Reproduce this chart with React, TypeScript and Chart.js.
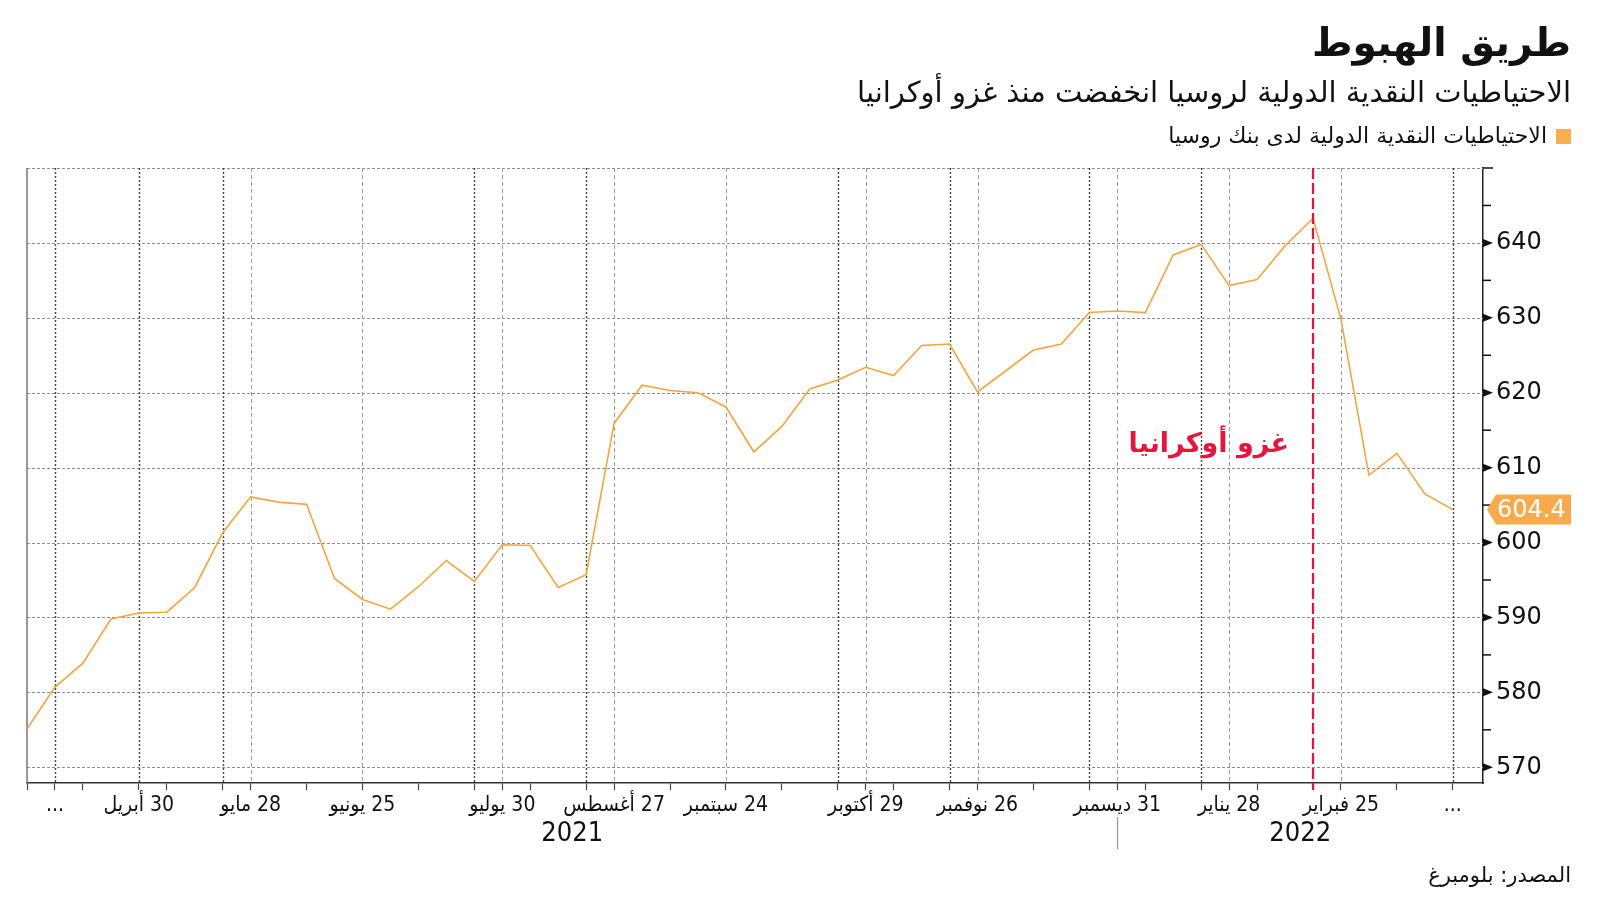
import React, { useEffect, useRef } from 'react';
import { Chart, registerables } from 'chart.js';

Chart.register(...registerables);

// Weekly international reserves of the Bank of Russia, $bn (2 Apr 2021 .. 25 Mar 2022)
const reserves = [
  575.1, 580.7, 583.9, 589.8, 590.6, 590.7, 594.0, 601.3, 606.1, 605.4,
  605.1, 595.2, 592.4, 591.1, 594.1, 597.6, 594.8, 599.7, 599.6, 594.0,
  595.7, 615.9, 621.0, 620.3, 620.0, 618.1, 612.1, 615.5, 620.5, 621.7,
  623.4, 622.3, 626.3, 626.5, 620.1, 622.9, 625.7, 626.5, 630.7, 630.9,
  630.7, 638.4, 639.8, 634.3, 635.1, 639.6, 643.3, 629.8, 609.0, 611.9,
  606.5, 604.4,
];

// x axis: week index of tick marks, labelled weeks and their labels
const tickWeeks = [0, 1, 2, 4, 5, 7, 8, 10, 12, 14, 16, 17, 18, 20, 21, 23, 25, 27, 29, 30, 31, 33, 34, 36, 38, 39, 40, 42, 43, 44, 46, 47, 49, 51];
const labelWeeks = [1, 4, 8, 12, 17, 21, 25, 30, 34, 39, 43, 47, 51];
const labelTexts = ['...', '30 أبريل', '28 مايو', '25 يونيو', '30 يوليو', '27 أغسطس', '24 سبتمبر', '29 أكتوبر', '26 نوفمبر', '31 ديسمبر', '28 يناير', '25 فبراير', '...'];
const darkGridWeeks = [1, 4, 7, 16, 20, 29, 33, 38, 42, 51];
const lightGridWeeks = [8, 12, 17, 21, 25, 30, 34, 39, 43, 47];
const yearNames = ['2021', '2022'];
const yearSplitWeek = 39;
const invasionWeek = 46;

// y axis
const yTickValues = [570, 575, 580, 585, 590, 595, 600, 605, 610, 615, 620, 625, 630, 635, 640, 645, 650];
const yLabelValues = [570, 580, 590, 600, 610, 620, 630, 640];
const Y_MIN = 567.9;
const Y_MAX = 650;
const X_MAX = 52.08;

const TITLE = 'طريق الهبوط';
const SUBTITLE = 'الاحتياطيات النقدية الدولية لروسيا انخفضت منذ غزو أوكرانيا';
const LEGEND = 'الاحتياطيات النقدية الدولية لدى بنك روسيا';
const SOURCE = 'المصدر: بلومبرغ';
const INVASION = 'غزو أوكرانيا';

const ORANGE = '#F5A53F';
const ORANGE_BOX = '#F8AA4C';
const RED = '#E5163D';
const AR_FONT = '"DejaVu Sans", sans-serif';
const NUM_FONT = '"DejaVu Sans", sans-serif';
const COND_FONT = '"DejaVu Sans Condensed", "DejaVu Sans", sans-serif';

function line(ctx: CanvasRenderingContext2D, x1: number, y1: number, x2: number, y2: number) {
  ctx.beginPath();
  ctx.moveTo(x1, y1);
  ctx.lineTo(x2, y2);
  ctx.stroke();
}

const decor = {
  id: 'decor',
  beforeDatasetsDraw(chart: any) {
    const { ctx, chartArea: a, scales } = chart;
    const x = scales.x;
    const y = scales.y;
    ctx.save();
    // horizontal dashed grid
    ctx.strokeStyle = '#8e8e8e';
    ctx.lineWidth = 1;
    ctx.setLineDash([3, 2]);
    for (const v of yLabelValues.concat([Y_MAX])) {
      const py = Math.round(y.getPixelForValue(v)) + 0.5;
      line(ctx, a.left, py, a.right, py);
    }
    // vertical grid lines
    ctx.strokeStyle = '#9a9a9a';
    ctx.setLineDash([4, 3]);
    for (const w of lightGridWeeks) {
      const px = Math.round(x.getPixelForValue(w)) + 0.5;
      line(ctx, px, a.top, px, a.bottom);
    }
    ctx.strokeStyle = '#444';
    ctx.lineWidth = 1.4;
    ctx.setLineDash([2, 2]);
    for (const w of darkGridWeeks) {
      const px = Math.round(x.getPixelForValue(w)) + 0.5;
      line(ctx, px, a.top, px, a.bottom);
    }
    // left axis line
    ctx.setLineDash([]);
    ctx.strokeStyle = '#777';
    ctx.lineWidth = 1.5;
    line(ctx, a.left, a.top, a.left, a.bottom);
    ctx.restore();
  },
  afterDatasetsDraw(chart: any) {
    const { ctx, chartArea: a, scales } = chart;
    const x = scales.x;
    const y = scales.y;
    ctx.save();
    // invasion line
    const ix = x.getPixelForValue(invasionWeek);
    ctx.strokeStyle = RED;
    ctx.lineWidth = 2.2;
    ctx.setLineDash([11, 4]);
    line(ctx, ix, a.top, ix, a.bottom + 7);
    ctx.setLineDash([]);
    // invasion text
    ctx.direction = 'rtl';
    ctx.fillStyle = RED;
    ctx.font = `bold 27px ${AR_FONT}`;
    ctx.textAlign = 'right';
    ctx.textBaseline = 'middle';
    ctx.fillText(INVASION, ix - 24, y.getPixelForValue(613));

    // y axis markers
    const ax = a.right;
    ctx.fillStyle = '#111';
    ctx.strokeStyle = '#111';
    ctx.lineWidth = 1.5;
    for (const v of yTickValues) {
      const py = y.getPixelForValue(v);
      if (yLabelValues.includes(v)) {
        ctx.beginPath();
        ctx.moveTo(ax, py - 4);
        ctx.lineTo(ax + 10, py);
        ctx.lineTo(ax, py + 4);
        ctx.closePath();
        ctx.fill();
      } else {
        line(ctx, ax, py, ax + (v === Y_MAX ? 10 : 8), py);
      }
    }

    // last value label
    const lastV = reserves[reserves.length - 1];
    const ly = y.getPixelForValue(lastV);
    ctx.fillStyle = ORANGE_BOX;
    ctx.beginPath();
    ctx.moveTo(ax + 4, ly);
    ctx.lineTo(ax + 13, ly - 15);
    ctx.lineTo(1571, ly - 15);
    ctx.lineTo(1571, ly + 15);
    ctx.lineTo(ax + 13, ly + 15);
    ctx.closePath();
    ctx.fill();
    ctx.direction = 'ltr';
    ctx.fillStyle = '#fff';
    ctx.font = `24px ${NUM_FONT}`;
    ctx.textAlign = 'left';
    ctx.fillText(lastV.toFixed(1), ax + 14, ly + 1);

    // years
    const sx = Math.round(x.getPixelForValue(yearSplitWeek)) + 0.5;
    ctx.strokeStyle = '#999';
    ctx.lineWidth = 1.2;
    line(ctx, sx, a.bottom + 34, sx, a.bottom + 66);
    ctx.fillStyle = '#111';
    ctx.font = `27px ${COND_FONT}`;
    ctx.textAlign = 'center';
    ctx.fillText(yearNames[0], (a.left + sx) / 2, a.bottom + 51);
    ctx.fillText(yearNames[1], (sx + a.right) / 2, a.bottom + 51);
    ctx.restore();
  },
};

export default function App() {
  const canvasRef = useRef<HTMLCanvasElement | null>(null);

  useEffect(() => {
    const canvas = canvasRef.current;
    if (!canvas) return;
    const chart = new Chart(canvas, {
      type: 'line',
      data: {
        datasets: [
          {
            data: reserves.map((v, i) => ({ x: i, y: v })),
            borderColor: ORANGE,
            borderWidth: 1.6,
            pointRadius: 0,
            tension: 0,
            fill: false,
          },
        ],
      },
      options: {
        animation: false,
        responsive: false,
        devicePixelRatio: 1,
        layout: { padding: { left: 27, top: 168, right: 0, bottom: 0 } },
        plugins: { legend: { display: false }, tooltip: { enabled: false } },
        scales: {
          x: {
            type: 'linear',
            min: 0,
            max: X_MAX,
            afterBuildTicks: (s: any) => {
              s.ticks = tickWeeks.map((v) => ({ value: v }));
            },
            afterFit: (s: any) => {
              s.height = 118;
            },
            grid: { display: true, drawOnChartArea: false, drawTicks: true, tickLength: 7, tickColor: '#444', tickWidth: 1.2 },
            border: { display: true, color: '#333', width: 1.5 },
            ticks: {
              autoSkip: false,
              maxRotation: 0,
              minRotation: 0,
              padding: 3,
              color: '#111',
              font: { family: COND_FONT, size: 21 },
              callback: (v: any) => {
                const i = labelWeeks.indexOf(Number(v));
                return i >= 0 ? labelTexts[i] : '';
              },
            },
          },
          y: {
            type: 'linear',
            position: 'right',
            min: Y_MIN,
            max: Y_MAX,
            afterBuildTicks: (s: any) => {
              s.ticks = yTickValues.map((v) => ({ value: v }));
            },
            afterFit: (s: any) => {
              s.width = 117;
            },
            grid: { display: true, drawOnChartArea: false, drawTicks: false },
            border: { display: true, color: '#222', width: 1.5 },
            ticks: {
              padding: 13,
              color: '#111',
              font: { family: NUM_FONT, size: 24 },
              callback: (v: any) => (yLabelValues.includes(Number(v)) ? String(v) : ''),
            },
          },
        },
      },
      plugins: [decor],
    } as any);
    return () => chart.destroy();
  }, []);

  const textBase: React.CSSProperties = {
    position: 'absolute',
    right: 29,
    whiteSpace: 'nowrap',
    color: '#111',
    fontFamily: AR_FONT,
    direction: 'rtl',
  };

  return (
    <div style={{ position: 'fixed', left: 0, top: 0, width: 1600, height: 901, background: '#fff', overflow: 'hidden' }}>
      <canvas ref={canvasRef} width={1600} height={901} dir="rtl" style={{ position: 'absolute', left: 0, top: 0, width: 1600, height: 901 }} />
      <div style={{ ...textBase, top: 19, height: 48, lineHeight: '48px', fontSize: 39, fontWeight: 'bold' }}>{TITLE}</div>
      <div style={{ ...textBase, top: 73, height: 38, lineHeight: '38px', fontSize: 29 }}>{SUBTITLE}</div>
      <div style={{ ...textBase, top: 122, height: 28, lineHeight: '28px', fontSize: 22, display: 'flex', alignItems: 'center' }}>
        <span style={{ display: 'inline-block', width: 15, height: 15, background: '#F9AF4E', marginLeft: 9 }} />
        <span>{LEGEND}</span>
      </div>
      <div style={{ ...textBase, top: 862, height: 26, lineHeight: '26px', fontSize: 21 }}>{SOURCE}</div>
    </div>
  );
}
